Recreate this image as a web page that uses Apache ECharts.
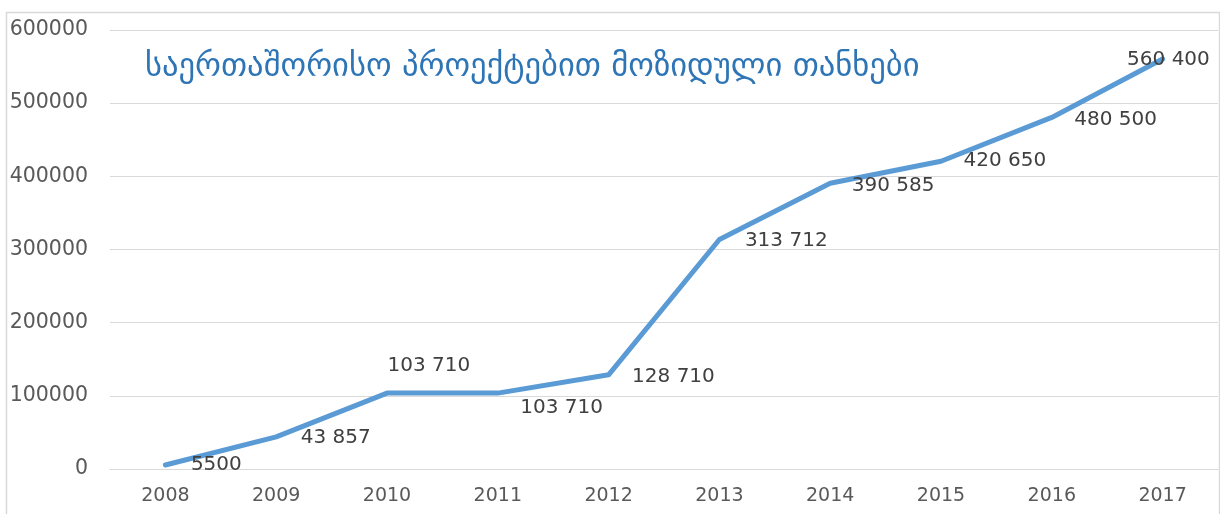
<!DOCTYPE html>
<html>
<head>
<meta charset="utf-8">
<script src="https://cdn.jsdelivr.net/npm/echarts@6/dist/echarts.min.js"></script>
<style>
html,body{margin:0;padding:0;background:#fff;}
#chart{width:1220px;height:514px;}
</style>
</head>
<body>
<div id="chart"></div>
<script>
const titleText = 'საერთაშორისო პროექტებით მოზიდული თანხები';
const years = ['2008','2009','2010','2011','2012','2013','2014','2015','2016','2017'];
const amounts = [5500, 43857, 103710, 103710, 128710, 313712, 390585, 420650, 480500, 560400];
const yTicks = { min: 0, max: 600000, interval: 100000 };
// label offsets (style only) relative to each point
const labelOffsets = [[25,0],[24,1],[0,-27],[22,15],[23,2],[25,1],[21,3],[22,0],[22,2],[-36,1]];

function fmt(v){
  if (v < 10000) return String(v);
  return String(v).replace(/\B(?=(\d{3})+(?!\d))/g, ' ');
}

const chart = echarts.init(document.getElementById('chart'), null, {renderer:'canvas'});
const seriesData = amounts.map((v,i)=>({
  value: v,
  label: { offset: labelOffsets[i] }
}));

chart.setOption({
  animation: false,
  backgroundColor: '#fff',
  graphic: [{
    type: 'rect', left: 4, top: 10, silent: true, z: -10,
    shape: { width: 1213, height: 520 },
    style: { fill: 'none', stroke: '#d9d9d9', lineWidth: 1.5 }
  }],
  title: {
    text: titleText,
    left: 140, top: 46,
    textStyle: { fontFamily: 'DejaVu Sans', fontSize: 32.6, fontWeight: 'normal', color: '#2E75B6' }
  },
  grid: { left: 110, right: 2, top: 30, bottom: 45, containLabel: false },
  xAxis: {
    type: 'category', data: years, boundaryGap: true,
    axisLine: { lineStyle: { color: '#d9d9d9', width: 1 } },
    axisTick: { show: false },
    axisLabel: { color: '#595959', fontFamily: 'DejaVu Sans', fontSize: 19, margin: 18 }
  },
  yAxis: {
    type: 'value', min: yTicks.min, max: yTicks.max, interval: yTicks.interval,
    axisLine: { show: false }, axisTick: { show: false },
    splitLine: { lineStyle: { color: '#d9d9d9', width: 1 } },
    axisLabel: { color: '#595959', fontFamily: 'DejaVu Sans', fontSize: 20.5, margin: 22,
      formatter: v => String(v) }
  },
  series: [{
    type: 'line',
    data: seriesData,
    symbol: 'circle', symbolSize: 1,
    itemStyle: { color: 'rgba(0,0,0,0)' },
    lineStyle: { color: '#5B9BD5', width: 5, cap: 'round', join: 'round' },
    label: {
      show: true, position: 'right', distance: 0,
      align: 'left', verticalAlign: 'middle',
      color: '#404040', fontFamily: 'DejaVu Sans', fontSize: 20,
      formatter: p => fmt(p.value)
    }
  }]
});
</script>
</body>
</html>
